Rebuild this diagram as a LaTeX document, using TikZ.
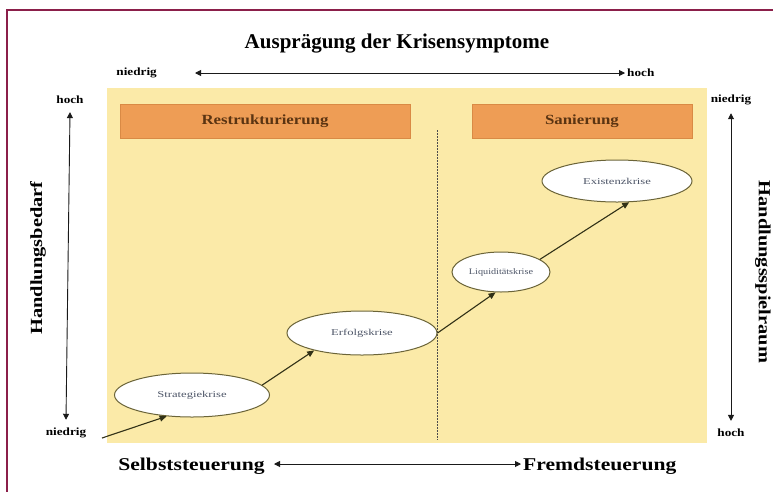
\documentclass[tikz,border=0pt]{standalone}
\usepackage{fontspec}
\setmainfont{Liberation Serif}
\newfontfamily\widefont[FakeStretch=1.2]{Liberation Serif}
\newfontfamily\widerfont[FakeStretch=1.4]{Liberation Serif}
\usetikzlibrary{shapes.geometric,arrows.meta}
\definecolor{frame}{HTML}{8B1F4A}
\definecolor{bg}{HTML}{FBEAA8}
\definecolor{orangebox}{HTML}{EE9D55}
\definecolor{orangeedge}{HTML}{D98A45}
\definecolor{boxtext}{HTML}{5A3412}
\definecolor{elledge}{HTML}{6B6438}
\definecolor{elltext}{HTML}{4E5668}
\definecolor{arr}{HTML}{1A1A1A}
\begin{document}
\begin{tikzpicture}[x=1pt,y=-1pt,
  lbl/.style={font=\widefont\bfseries\fontsize{11}{12}\selectfont,inner sep=1pt},
  axis/.style={draw=arr,line width=0.9pt,{Triangle[length=6pt,width=6pt]}-{Triangle[length=6pt,width=6pt]}},
  phase/.style={draw=orangeedge,fill=orangebox,minimum width=#1,minimum height=34pt,inner sep=0pt,font=\widefont\bfseries\fontsize{14}{16}\selectfont,text=boxtext},
  crisis/.style={ellipse,draw=elledge,line width=1pt,fill=white,minimum width=#1,minimum height=44pt,inner sep=0pt,font=\widerfont\fontsize{9}{10}\selectfont,text=elltext},
  flow/.style={draw=arr!90!yellow,line width=1.1pt,-{Triangle[length=7pt,width=6pt]}},
  big/.style={font=\widefont\bfseries\fontsize{18}{20}\selectfont,inner sep=1pt},
  side/.style={font=\widefont\bfseries\fontsize{17}{19}\selectfont,inner sep=1pt}]
\useasboundingbox (0,0) rectangle (773,491);
\fill[white] (0,0) rectangle (773,491);
\draw[frame,line width=1.6pt] (7,10) rectangle (790,510);
% background
\fill[bg] (107,88) rectangle (707,443);
% divider
\draw[black!70,line width=0.8pt,dash pattern=on 2pt off 1pt] (437,130) -- (437,440);
% phase boxes
\node[phase=290pt] (restr) at (265,121) {Restrukturierung};
\node[phase=220pt] (san) at (582,121) {Sanierung};
% title and top axis
\node[font=\bfseries\fontsize{21}{23}\selectfont,inner sep=1pt] (title) at (397,44) {Ausprägung der Krisensymptome};
\node[lbl,anchor=east] (tlow) at (158,73) {niedrig};
\node[lbl,anchor=west] (thigh) at (626,73) {hoch};
\coordinate (ta) at (195,73);
\coordinate (tb) at (625,73);
\draw[axis] (ta) -- (tb);
% left axis
\node[lbl] (lhigh) at (70,100) {hoch};
\node[lbl] (llow) at (66,433) {niedrig};
\path (lhigh.south) ++(0,7) coordinate (la) (llow.north) ++(0,-7) coordinate (lb);
\draw[axis] (la) -- (lb);
\node[side,rotate=90] (lname) at (38,258) {Handlungsbedarf};
% right axis
\node[lbl] (rlow) at (731,100) {niedrig};
\node[lbl] (rhigh) at (731,433) {hoch};
\path (rlow.south) ++(0,7) coordinate (ra) (rhigh.north) ++(0,-7) coordinate (rb);
\draw[axis] (ra) -- (rb);
\node[side,rotate=-90] (rname) at (763,272) {Handlungsspielraum};
% bottom axis
\node[big,anchor=east] (self) at (266,466) {Selbststeuerung};
\node[big,anchor=west] (fremd) at (522,466) {Fremdsteuerung};
\path (self.east) ++(8,-2) coordinate (ba) (fremd.west) ++(-1,-2) coordinate (bb);
\draw[axis] (ba) -- (bb);
% crises
\node[crisis=155pt] (e1) at (192,395) {Strategiekrise};
\node[crisis=150pt] (e2) at (362,333) {Erfolgskrise};
\node[crisis=98pt,minimum height=40pt,inner xsep=-12pt,font=\widefont\fontsize{8.5}{9}\selectfont] (e3) at (501,272) {Liquiditätskrise};
\node[crisis=150pt,minimum height=42pt] (e4) at (617,181) {Existenzkrise};
\coordinate (start) at (102,438);
\draw[flow] (start) -- (e1.-140);
\draw[flow] (e1.8) -- (e2.-160);
\draw[flow] (e2.east) -- (e3.-105);
\draw[flow] (e3.18) -- (e4.-60);
\end{tikzpicture}
\end{document}
